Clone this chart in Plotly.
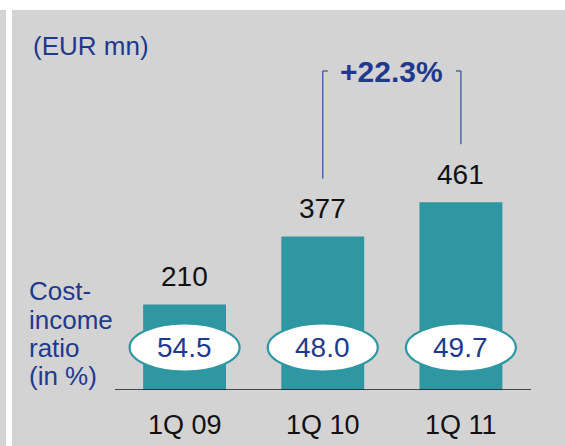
import plotly.graph_objects as go

# Operating expenses, EUR mn
quarters = ["1Q 09", "1Q 10", "1Q 11"]
expenses = [210, 377, 461]
cost_income = ["54.5", "48.0", "49.7"]
growth_label = "+22.3%"
unit_label = "(EUR mn)"
side_label = ["Cost-", "income", "ratio", "(in %)"]

W, H = 565, 446
GRAY = "#d3d3d3"
TEAL = "#2e97a2"
BLUE = "#1f3a8c"
LINE_BLUE = "#3b56a2"
FONT = "Liberation Sans, Arial, sans-serif"
Y_TOP = 958          # value axis upper limit
BASE_PX = 390        # baseline position from the top, in pixels


def px_x(p):
    return p / W


def px_y(p):
    return (H - p) / H


x_pos = list(range(len(quarters)))

fig = go.Figure(
    go.Bar(
        x=x_pos,
        y=expenses,
        width=0.6,
        marker=dict(color=TEAL, line=dict(width=0)),
        hoverinfo="skip",
    )
)

# white frame strips over the gray page
fig.add_shape(type="rect", xref="paper", yref="paper", x0=0, x1=1, y0=px_y(10), y1=1,
              fillcolor="white", line=dict(width=0), layer="below")
fig.add_shape(type="rect", xref="paper", yref="paper", x0=px_x(6), x1=px_x(12), y0=0, y1=1,
              fillcolor="white", line=dict(width=0), layer="below")

# baseline
fig.add_shape(type="line", xref="paper", yref="y", x0=px_x(115), x1=px_x(531), y0=0, y1=0,
              line=dict(color="#1a1a1a", width=1.5))

# cost-income ellipses
ell_y = px_y(347.5)
for i in x_pos:
    fig.add_shape(
        type="circle", xref="x", yref="paper",
        xsizemode="pixel", xanchor=i, x0=-55, x1=55,
        ysizemode="pixel", yanchor=ell_y, y0=-24, y1=24,
        fillcolor="white", line=dict(color=TEAL, width=2.2),
    )

# growth bracket: legs start above each bar label and meet a shared top with inward ticks
bracket_top = px_y(71)
domain_bottom = px_y(BASE_PX)
for i, tick in ((1, 5), (2, -5)):
    v = expenses[i]
    leg_bottom = domain_bottom + (v / Y_TOP) * (1 - domain_bottom) + 58 / H
    fig.add_shape(type="line", xref="x", yref="paper", x0=i, x1=i,
                  y0=leg_bottom, y1=bracket_top,
                  line=dict(color=LINE_BLUE, width=1.3))
    fig.add_shape(type="line", xref="x", yref="paper", xsizemode="pixel", xanchor=i,
                  x0=0, x1=tick, y0=bracket_top, y1=bracket_top,
                  line=dict(color=LINE_BLUE, width=1.3))

annotations = []
for i in x_pos:
    annotations.append(dict(
        x=i, y=expenses[i], xref="x", yref="y", text=str(expenses[i]),
        showarrow=False, yanchor="middle", yshift=28,
        font=dict(family=FONT, size=28, color="#111111"),
    ))
    annotations.append(dict(
        x=i, y=ell_y, xref="x", yref="paper", text=cost_income[i],
        showarrow=False, yanchor="middle",
        font=dict(family=FONT, size=28, color=BLUE),
    ))
    annotations.append(dict(
        x=i, y=0, xref="x", yref="y", text=quarters[i],
        showarrow=False, yanchor="middle", yshift=-35,
        font=dict(family=FONT, size=27, color="#111111"),
    ))

annotations.append(dict(
    x=px_x(31), y=px_y(46), xref="paper", yref="paper", text=unit_label,
    showarrow=False, xanchor="left", yanchor="middle",
    font=dict(family=FONT, size=26, color=BLUE),
))
annotations.append(dict(
    x=1.5, y=px_y(71), xref="x", yref="paper", text="<b>" + growth_label + "</b>",
    showarrow=False, yanchor="middle",
    font=dict(family=FONT, size=30, color=BLUE),
))
for line, yc in zip(side_label, [291, 319.5, 348, 376]):
    annotations.append(dict(
        x=px_x(27), y=px_y(yc), xref="paper", yref="paper", text=line,
        showarrow=False, xanchor="left", yanchor="middle",
        font=dict(family=FONT, size=26, color=BLUE),
    ))

fig.update_layout(
    annotations=annotations,
    width=W, height=H,
    margin=dict(l=0, r=0, t=0, b=0),
    paper_bgcolor=GRAY,
    plot_bgcolor="rgba(0,0,0,0)",
    showlegend=False,
    xaxis=dict(domain=[px_x(115.5), px_x(530)], range=[-0.5, 2.5],
               visible=False, fixedrange=True),
    yaxis=dict(domain=[px_y(BASE_PX), 1], range=[0, Y_TOP],
               visible=False, fixedrange=True),
)

fig.write_html("out.html")
